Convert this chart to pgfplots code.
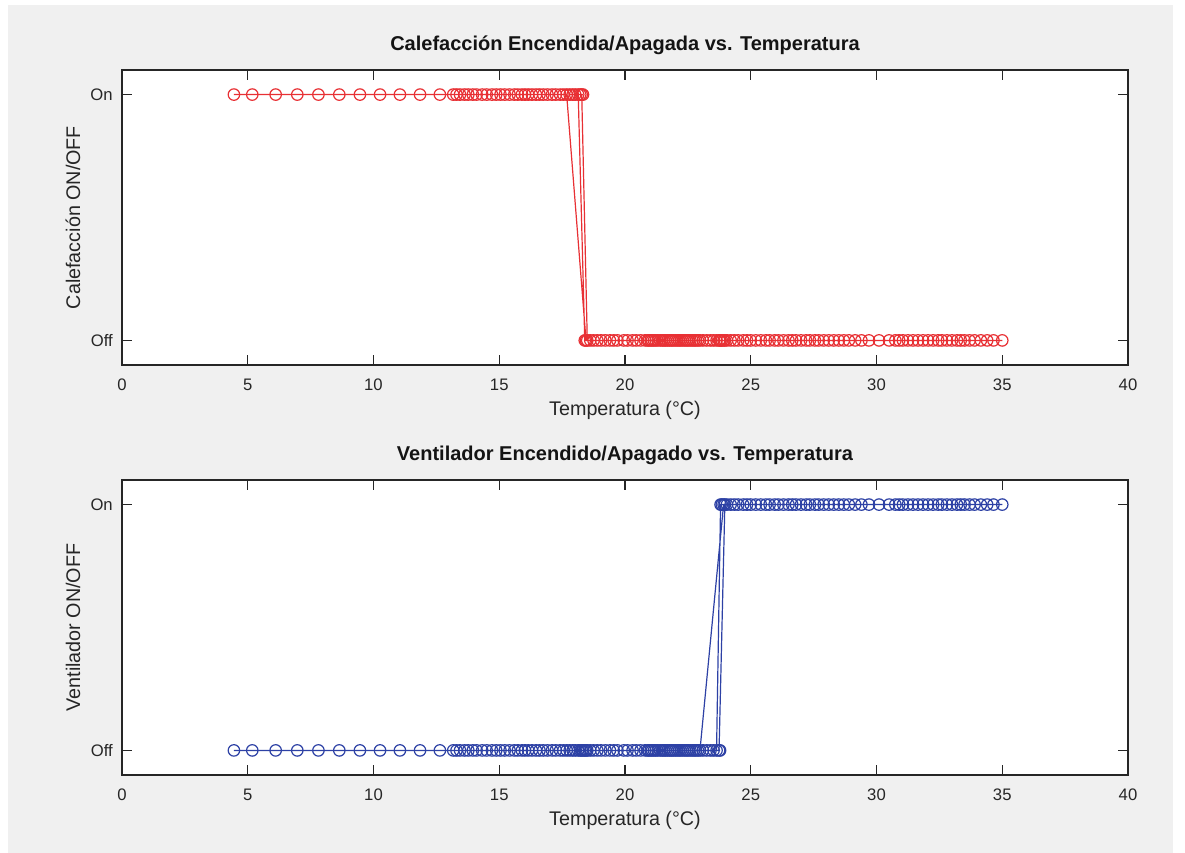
\documentclass[border=0pt]{standalone}
\usepackage{pgfplots}
\pgfplotsset{compat=1.18}
\usepackage{pgfplotstable}
\usepackage{fontspec}
\setmainfont{Liberation Sans}
\definecolor{bg}{RGB}{240,240,240}
\definecolor{axc}{RGB}{38,38,38}
\definecolor{redc}{RGB}{232,48,52}
\definecolor{bluec}{RGB}{45,65,165}

% T = temperatura, heat = calefaccion (1 On, 0 Off), fan = ventilador
\pgfplotstableread{
T heat fan
4.45 1 0
5.18 1 0
6.11 1 0
6.97 1 0
7.81 1 0
8.64 1 0
9.46 1 0
10.26 1 0
11.05 1 0
11.85 1 0
12.64 1 0
13.17 1 0
13.30 1 0
13.44 1 0
13.62 1 0
13.77 1 0
13.95 1 0
14.10 1 0
14.32 1 0
14.50 1 0
14.71 1 0
14.88 1 0
15.05 1 0
15.22 1 0
15.41 1 0
15.60 1 0
15.74 1 0
15.90 1 0
16.02 1 0
16.15 1 0
16.30 1 0
16.46 1 0
16.60 1 0
16.75 1 0
16.92 1 0
17.10 1 0
17.25 1 0
17.42 1 0
17.55 1 0
17.68 1 0
18.45 0 0
18.40 0 0
18.14 1 0
17.80 1 0
17.92 1 0
18.02 1 0
18.22 1 0
18.33 1 0
18.28 1 0
18.50 0 0
18.62 0 0
18.75 0 0
18.90 0 0
19.05 0 0
19.22 0 0
19.40 0 0
19.55 0 0
19.70 0 0
19.95 0 0
20.10 0 0
20.30 0 0
20.45 0 0
20.62 0 0
20.80 0 0
20.90 0 0
20.95 0 0
21.02 0 0
21.08 0 0
21.15 0 0
21.22 0 0
21.30 0 0
21.40 0 0
21.48 0 0
21.55 0 0
21.62 0 0
21.70 0 0
21.78 0 0
21.85 0 0
21.92 0 0
22.00 0 0
22.08 0 0
22.15 0 0
22.22 0 0
22.30 0 0
22.38 0 0
22.45 0 0
22.52 0 0
22.60 0 0
22.68 0 0
22.75 0 0
22.82 0 0
22.90 0 0
23.10 0 0
23.25 0 0
23.40 0 0
23.52 0 0
23.78 0 0
22.98 0 0
23.92 0 1
23.85 0 1
23.80 0 1
23.64 0 0
23.74 0 0
23.97 0 1
24.05 0 1
24.20 0 1
24.35 0 1
24.50 0 1
24.70 0 1
24.85 0 1
25.00 0 1
25.20 0 1
25.40 0 1
25.60 0 1
25.75 0 1
25.95 0 1
26.10 0 1
26.30 0 1
26.50 0 1
26.65 0 1
26.80 0 1
27.00 0 1
27.20 0 1
27.35 0 1
27.55 0 1
27.70 0 1
27.90 0 1
28.10 0 1
28.30 0 1
28.50 0 1
28.70 0 1
28.90 0 1
29.15 0 1
29.40 0 1
29.70 0 1
30.10 0 1
30.50 0 1
30.75 0 1
30.90 0 1
31.05 0 1
31.25 0 1
31.45 0 1
31.65 0 1
31.85 0 1
32.05 0 1
32.25 0 1
32.45 0 1
32.60 0 1
32.80 0 1
33.00 0 1
33.20 0 1
33.35 0 1
33.50 0 1
33.70 0 1
33.90 0 1
34.15 0 1
34.40 0 1
34.65 0 1
35.00 0 1
}\data

\pgfplotsset{
  mlab/.style={
    scale only axis,
    width=754.5pt, height=221.25pt,
    xmin=0, xmax=40, ymin=-0.1, ymax=1.1,
    xtick={0,5,...,40}, ytick={0,1}, yticklabels={Off,On},
    /pgf/number format/assume math mode=true,
    tick align=inside, major tick length=7.5pt,
    axis background/.style={fill=white},
    axis line style={axc, line width=0.8pt},
    every tick/.style={axc, line width=0.8pt},
    ticklabel style={font=\fontsize{12.5}{14}\selectfont, text=axc},
    xticklabel style={anchor=center, yshift=-15pt},
    yticklabel style={anchor=east, inner sep=0pt, xshift=-6.75pt},
    label style={font=\fontsize{14.8}{17}\selectfont, text=axc},
    xlabel style={at={(axis description cs:0.5,-0.1525)}, anchor=center},
    ylabel style={at={(axis description cs:-0.0487,0.5)}, anchor=center},
    title style={at={(axis description cs:0.5,1.0576)}, anchor=center,
      font=\fontsize{15}{17}\selectfont\bfseries, text=black!92},
    clip=false,
  }
}

\begin{document}
\begin{tikzpicture}
\fill[white] (0,0) rectangle (888.75pt,639.75pt);
\fill[bg] (6pt,0) rectangle (879.75pt,636pt);
\begin{axis}[mlab, at={(91.5pt,366pt)}, anchor=south west,
  title={Calefacción Encendida/Apagada vs. Temperatura},
  xlabel={Temperatura (°C)}, ylabel={Calefacción ON/OFF}]
\addplot[redc, line width=0.9pt, mark=o, mark size=4.3pt, mark options={solid, line width=0.9pt}]
  table[x=T, y=heat] {\data};
\end{axis}
\begin{axis}[mlab, at={(91.5pt,58.5pt)}, anchor=south west,
  title={Ventilador Encendido/Apagado vs. Temperatura},
  xlabel={Temperatura (°C)}, ylabel={Ventilador ON/OFF}]
\addplot[bluec, line width=0.9pt, mark=o, mark size=4.3pt, mark options={solid, line width=0.9pt}]
  table[x=T, y=fan] {\data};
\end{axis}
\end{tikzpicture}
\end{document}
